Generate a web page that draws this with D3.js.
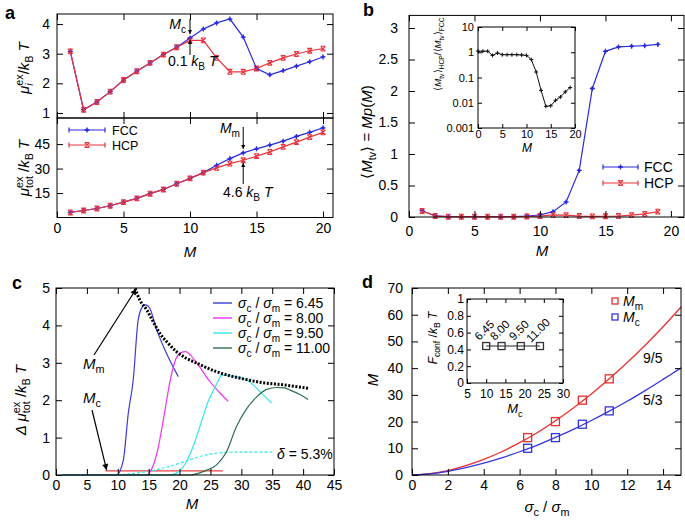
<!DOCTYPE html>
<html><head><meta charset="utf-8">
<script src="https://cdn.jsdelivr.net/npm/d3@7"></script>
<style>body{margin:0;background:#fff}</style>
</head><body>
<script>
// ---------------- DATA ----------------
// Panel a
const aM = [1,2,3,4,5,6,7,8,9,10,11,12,13,14,15,16,17,18,19,20];
const aMuiFCC = [3.08,1.11,1.37,1.72,2.11,2.41,2.69,2.97,3.22,3.53,3.83,4.04,4.17,3.56,2.50,2.29,2.43,2.58,2.73,2.89];
const aMuiHCP = [3.08,1.11,1.37,1.72,2.11,2.41,2.69,2.97,3.22,3.45,3.45,2.86,2.39,2.39,2.50,2.69,2.86,2.99,3.10,3.17];
const aMutotFCC = [3.1,4.3,5.5,7.2,9.4,11.7,14.6,17.2,20.7,24.0,27.5,32.0,36.1,39.6,42.1,44.4,46.8,49.7,52.2,55.0];
const aMutotHCP = [3.1,4.3,5.5,7.2,9.4,11.7,14.6,17.2,20.7,24.0,27.5,30.4,33.0,35.1,37.6,40.2,43.3,46.2,49.3,52.2];
const aXTicks = [0,5,10,15,20];
const aYTicksTop = [1,2,3,4];
const aYTicksBot = [15,30,45];
// Panel b
const bM = [1,2,3,4,5,6,7,8,9,10,11,12,13,14,15,16,17,18,19];
const bFCC = [0.1,0.02,0.005,0.005,0.005,0.005,0.005,0.008,0.016,0.032,0.085,0.24,0.74,2.04,2.63,2.70,2.71,2.72,2.74];
const bHCP = [0.095,0.015,0.005,0.005,0.005,0.005,0.005,0.005,0.008,0.015,0.035,0.03,0.015,0.01,0.012,0.015,0.03,0.05,0.085];
const bInsetM = [0,1,2,3,4,5,6,7,8,9,10,11,12,13,14,15,16,17,18,19];
const bInsetRatio = [1.1,1.1,1.1,0.75,0.93,0.8,0.8,0.8,0.8,0.78,0.75,0.51,0.165,0.031,0.0072,0.0076,0.0125,0.017,0.027,0.04];
const bXTicks = [0,5,10,15,20];
const bYTicks = [0,0.5,1,1.5,2,2.5,3];
const bInsetYTicks = [0.001,0.01,0.1,1,10];
const bInsetYLabels = ["0.001","0.01","0.1","1","10"];
// Panel c
const cBlueM = [1,9.8,10.9,11.7,12.5,13.3,14.0,14.4,14.9,15.2,16.3,17.9,19.8];
const cBlueV = [0,0,0.4,1.65,2.54,4.14,4.5,4.55,4.52,4.45,3.88,3.25,2.63];
const cMagM = [1,14.6,15.6,16.5,17.4,18.5,19.4,20.3,21.0,21.8,23.0,24.9,26.5,27.9];
const cMagV = [0,0,0.2,0.7,1.5,2.54,3.1,3.28,3.3,3.2,2.95,2.5,2.2,1.97];
const cCyanM = [1,18.5,19.5,20.6,21.4,22.2,23.0,23.8,24.6,25.5,26.2,26.8,28.7,30.9,31.9,33.5,34.9];
const cCyanV = [0,0,0.05,0.22,0.45,0.76,1.15,1.56,1.95,2.27,2.5,2.67,2.64,2.54,2.41,2.15,1.92];
const cGreenM = [1,21.7,24.4,26.0,27.6,29.2,30.9,32.5,34.1,35.7,37.0,37.9,39.5,40.8];
const cGreenV = [0,0,0.13,0.27,0.62,1.29,1.78,2.09,2.29,2.34,2.33,2.27,2.15,2.02];
const cDashM = [1,10,13,15,17,19,21,23,25,27,29,35];
const cDashV = [0,0.01,0.05,0.1,0.17,0.26,0.37,0.48,0.56,0.6,0.61,0.61];
const cEnvM = [12.8,13.5,14.7,15.8,16.8,18.0,19.5,21.0,22.8,24.5,26.0,28.0,30.3,33.0,36.8,40.8];
const cEnvV = [4.99,4.7,4.41,4.08,3.79,3.55,3.3,3.13,2.99,2.86,2.76,2.66,2.57,2.48,2.41,2.32];
const cRedM = [8,27];
const cRedV = [0.11,0.11];
const cLegend = ["6.45","8.00","9.50","11.00"];
const cXTicks = [0,5,10,15,20,25,30,35,40,45];
const cYTicks = [0,1,2,3,4,5];
// Panel d
const dSigma = [6.45,8.00,9.50,11.00];
const dMm = [14,20,28,36];
const dMc = [10,14,19,24];
const dFitX = [0,1,2,3,4,5,6,7,8,9,10,11,12,13,14,15];
const dFitMm = [0,0.48,1.67,3.47,5.82,8.69,12.1,15.9,20.3,25.1,30.3,36.0,42.1,48.6,55.5,62.9];
const dFitMc = [0,0.44,1.39,2.74,4.43,6.42,8.70,11.2,14.05,17.1,20.4,23.9,27.6,31.6,35.8,40.1];
const dInsetF = [0.44,0.44,0.44,0.44];
const dXTicks = [0,2,4,6,8,10,12,14];
const dYTicks = [0,10,20,30,40,50,60,70];
const dInsetXTicks = [5,10,15,20,25,30];
const dInsetYTicks = [0,0.2,0.4,0.6,0.8,1];

// ---------------- STYLE ----------------
const FONT = "'Liberation Sans', Arial, Helvetica, sans-serif";
const BLUE = "#2a2ae0", RED = "#e8343c";
const C6 = "#3b3bd6", C8 = "#f030f0", C95 = "#30e8e8", C11 = "#2f6f4f";

const svg = d3.select("body").append("svg").attr("width",685).attr("height",522)
  .attr("font-family",FONT).style("background","#fff");
svg.append("rect").attr("width",685).attr("height",522).attr("fill","#fff");
const defs = svg.append("defs");
function mkArrow(id, w, h){
  defs.append("marker").attr("id",id).attr("viewBox","0 0 10 10").attr("refX",10).attr("refY",5)
    .attr("markerUnits","userSpaceOnUse").attr("markerWidth",w).attr("markerHeight",h).attr("orient","auto")
    .append("path").attr("d","M0,0 L10,5 L0,10 z").attr("fill","#000");
}
mkArrow("ahS",5,4); mkArrow("ahL",9,6);

function rich(sel, parts, fs){
  let cur = 0, pending = 0, prevLen = 0;
  parts.forEach(p=>{
    const lvl = p.sup ? -0.38*fs : p.sub ? 0.28*fs : 0;
    const ts = sel.append("tspan").text(p.t);
    ts.attr("dy",(lvl-cur).toFixed(2));
    cur = lvl;
    if (p.sup||p.sub) ts.attr("font-size",(fs*0.72).toFixed(1));
    if (p.it) ts.attr("font-style","italic");
    let dxv = 0;
    if (p.back) dxv -= prevLen;
    else if (pending) { dxv += pending; pending = 0; }
    if (dxv) ts.attr("dx",dxv.toFixed(2));
    const len = ts.node().getComputedTextLength();
    if (p.back) pending = Math.max(0, prevLen-len);
    prevLen = len;
  });
}
function label(x,y,parts,o={}){
  const fs=o.fs||15;
  const t = svg.append("text").attr("transform",`translate(${x},${y}) rotate(${o.rot||0})`)
    .attr("text-anchor",o.anchor||"middle").attr("font-size",fs).attr("fill","#000");
  if (o.bold) t.attr("font-weight","bold");
  rich(t, typeof parts==="string"?[{t:parts}]:parts, fs);
  return t;
}
function tickAxis(scale, orient, pos, values, o={}){
  const len=o.len||6, pad=o.pad||5, fs=o.fs||14;
  const gen = {bottom:d3.axisBottom,top:d3.axisTop,left:d3.axisLeft,right:d3.axisRight}[orient](scale)
    .tickValues(values).tickSizeInner(-len).tickSizeOuter(0).tickPadding(pad);
  if (o.labels===false) gen.tickFormat(()=>"");
  else gen.tickFormat(o.fmt || (d=>String(d)));
  const horiz = orient==="bottom"||orient==="top";
  const a = svg.append("g").attr("transform",horiz?`translate(0,${pos})`:`translate(${pos},0)`).call(gen);
  a.select(".domain").remove();
  a.attr("font-family",FONT).attr("font-size",fs);
  a.selectAll("line").attr("stroke","#000").attr("stroke-width",1);
  a.selectAll("text").attr("fill","#000");
  return a;
}
function frame(x0,x1,y0,y1){
  svg.append("rect").attr("x",x0).attr("y",y0).attr("width",x1-x0).attr("height",y1-y0)
    .attr("fill","none").attr("stroke","#000").attr("stroke-width",1);
}
function plus(g,x,y,c,s=2.5){
  g.append("path").attr("d",`M${x-s},${y}H${x+s}M${x},${y-s}V${y+s}`).attr("stroke",c).attr("stroke-width",1.3).attr("fill","none");
  g.append("circle").attr("cx",x).attr("cy",y).attr("r",1.4).attr("fill",c);
}
function boxx(g,x,y,c,s=2.4){
  g.append("path").attr("d",`M${x-s},${y-s}L${x+s},${y+s}M${x-s},${y+s}L${x+s},${y-s}M${x-s},${y-s}H${x+s}M${x-s},${y+s}H${x+s}`)
    .attr("stroke",c).attr("stroke-width",1.1).attr("fill","none");
}
function series(xs, ys, sx, sy, color, opts={}){
  const pts = xs.map((x,i)=>[sx(x), sy(ys[i])]);
  const p = svg.append("path").attr("d",d3.line().curve(opts.curve||d3.curveLinear)(pts))
    .attr("fill","none").attr("stroke",color).attr("stroke-width",opts.w||1.2);
  if (opts.dash) p.attr("stroke-dasharray",opts.dash);
  return pts;
}
function legendLine(x0,x1,y,c,mk){
  const g = svg.append("g");
  g.append("path").attr("d",`M${x0},${y}H${x1}M${x0},${y-2.5}V${y+2.5}M${x1},${y-2.5}V${y+2.5}`).attr("stroke",c).attr("stroke-width",1.2).attr("fill","none");
  mk(g,(x0+x1)/2,y,c);
}

// ---------------- PANEL A ----------------
const axA = d3.scaleLinear().domain([0,20.75]).range([57,333]);
const ayT = d3.scaleLinear().domain([0.83,4.34]).range([118,14]);
const ayB = d3.scaleLinear().domain([0,61]).range([217.5,118]);
{
  const g = svg.append("g");
  const p1 = series(aM,aMuiFCC,axA,ayT,BLUE);
  const p2 = series(aM,aMuiHCP,axA,ayT,RED);
  p1.forEach(p=>plus(g,p[0],p[1],BLUE));
  p2.forEach(p=>boxx(g,p[0],p[1],RED));
  const q1 = series(aM,aMutotFCC,axA,ayB,BLUE);
  const q2 = series(aM,aMutotHCP,axA,ayB,RED);
  q1.forEach(p=>plus(g,p[0],p[1],BLUE));
  q2.forEach(p=>boxx(g,p[0],p[1],RED));
}
tickAxis(axA,"top",14,aXTicks,{labels:false});
tickAxis(axA,"bottom",118,aXTicks,{labels:false});
tickAxis(axA,"top",118,aXTicks,{labels:false});
tickAxis(axA,"bottom",217.5,aXTicks,{pad:5.5});
tickAxis(ayT,"left",57,aYTicksTop,{pad:7});
tickAxis(ayT,"right",333,aYTicksTop,{labels:false});
tickAxis(ayB,"left",57,aYTicksBot,{pad:7});
tickAxis(ayB,"right",333,aYTicksBot,{labels:false});
frame(57,333,14,118); frame(57,333,118,217.5);
legendLine(69,105,130,BLUE,plus); legendLine(69,105,145,RED,boxx);
label(112,134.5,"FCC",{anchor:"start",fs:12.5}); label(112,149.5,"HCP",{anchor:"start",fs:12.5});
label(190,257,[{t:"M",it:1}],{fs:15});
label(29,68,[{t:"μ",it:1},{t:"ex",sup:1},{t:"i",sub:1,it:1,back:1},{t:"/"},{t:"k",it:1},{t:"B",sub:1},{t:" T",it:1}],{rot:-90,fs:15});
label(29,168,[{t:"μ",it:1},{t:"ex",sup:1},{t:"tot",sub:1,back:1},{t:" /"},{t:"k",it:1},{t:"B",sub:1},{t:" T",it:1}],{rot:-90,fs:15});
label(5,19,"a",{anchor:"start",fs:18,bold:1});
// annotations a
svg.append("line").attr("x1",axA(10)).attr("x2",axA(10)).attr("y1",19).attr("y2",34).attr("stroke","#000").attr("marker-end","url(#ahS)");
svg.append("line").attr("x1",axA(10)).attr("x2",axA(10)).attr("y1",55).attr("y2",40).attr("stroke","#000").attr("marker-end","url(#ahS)");
label(186,29,[{t:"M",it:1},{t:"c",sub:1}],{anchor:"end",fs:14});
label(168,66,[{t:"0.1 "},{t:"k",it:1},{t:"B",sub:1},{t:" T",it:1}],{anchor:"start",fs:14});
svg.append("line").attr("x1",axA(14)).attr("x2",axA(14)).attr("y1",127).attr("y2",149).attr("stroke","#000").attr("marker-end","url(#ahS)");
svg.append("line").attr("x1",axA(14)).attr("x2",axA(14)).attr("y1",184).attr("y2",163).attr("stroke","#000").attr("marker-end","url(#ahS)");
label(240,133,[{t:"M",it:1},{t:"m",sub:1}],{anchor:"end",fs:14});
label(223,197,[{t:"4.6 "},{t:"k",it:1},{t:"B",sub:1},{t:" T",it:1}],{anchor:"start",fs:14});

// ---------------- PANEL B ----------------
const bx = d3.scaleLinear().domain([0,21]).range([409,684]);
const by = d3.scaleLinear().domain([0,3.2]).range([217,15.4]);
{
  const g = svg.append("g");
  const p1 = series(bM,bFCC,bx,by,BLUE);
  const p2 = series(bM,bHCP,bx,by,RED);
  p1.forEach(p=>plus(g,p[0],p[1],BLUE));
  p2.forEach(p=>boxx(g,p[0],p[1],RED));
}
tickAxis(bx,"bottom",217,bXTicks,{pad:9.5});
tickAxis(bx,"top",15.4,bXTicks,{labels:false});
tickAxis(by,"left",409,bYTicks,{pad:11});
tickAxis(by,"right",684,bYTicks,{labels:false});
frame(409,684,15.4,217);
legendLine(603,638,167,BLUE,plus); legendLine(603,638,183,RED,boxx);
label(644,172,"FCC",{anchor:"start",fs:14}); label(644,188,"HCP",{anchor:"start",fs:14});
label(542,256,[{t:"M",it:1}],{fs:15});
label(372,132,[{t:"⟨"},{t:"M",it:1},{t:"tv",sub:1},{t:"⟩ = "},{t:"Mp",it:1},{t:"("},{t:"M",it:1},{t:")"}],{rot:-90,fs:15});
label(363,16,"b",{anchor:"start",fs:18,bold:1});
// inset b
const bix = d3.scaleLinear().domain([0,20]).range([478,575]);
const biy = d3.scaleLog().domain([0.001,10]).range([128,27]);
{
  const g = svg.append("g");
  const p = series(bInsetM,bInsetRatio,bix,biy,"#111",{w:1});
  p.forEach(q=>g.append("path").attr("d",`M${q[0]-2},${q[1]}H${q[0]+2}M${q[0]},${q[1]-2}V${q[1]+2}`).attr("stroke","#111").attr("stroke-width",1));
}
tickAxis(bix,"bottom",128,bXTicks,{len:4,pad:2,fs:11});
tickAxis(bix,"top",27,bXTicks,{len:4,labels:false});
tickAxis(biy,"left",478,bInsetYTicks,{len:4,pad:4,fs:11,fmt:(d,i)=>bInsetYLabels[i]});
tickAxis(biy,"right",575,bInsetYTicks,{len:4,labels:false});
frame(478,575,27,128);
label(527,152,[{t:"M",it:1}],{fs:12});
label(441,54,[{t:"⟨"},{t:"M",it:1},{t:"tv",sub:1},{t:"⟩"},{t:"HCP",sub:1},{t:"/⟨"},{t:"M",it:1},{t:"tv",sub:1},{t:"⟩"},{t:"FCC",sub:1}],{rot:-90,fs:9.5});

// ---------------- PANEL C ----------------
const cx = d3.scaleLinear().domain([0,45]).range([56,334]);
const cy = d3.scaleLinear().domain([0,5]).range([475,288]);
series(cRedM,cRedV,cx,cy,"#e84040",{w:1.3});
series(cDashM,cDashV,cx,cy,C95,{w:1.2,dash:"3,2",curve:d3.curveMonotoneX});
series(cBlueM,cBlueV,cx,cy,C6,{w:1.2,curve:d3.curveMonotoneX});
series(cMagM,cMagV,cx,cy,C8,{w:1.2,curve:d3.curveMonotoneX});
series(cCyanM,cCyanV,cx,cy,C95,{w:1.2,curve:d3.curveMonotoneX});
series(cGreenM,cGreenV,cx,cy,C11,{w:1.2,curve:d3.curveMonotoneX});
series(cEnvM,cEnvV,cx,cy,"#000",{w:3,dash:"2,1.6",curve:d3.curveMonotoneX});
tickAxis(cx,"bottom",475,cXTicks,{pad:5});
tickAxis(cx,"top",288,cXTicks,{labels:false});
tickAxis(cy,"left",56,cYTicks,{pad:6});
tickAxis(cy,"right",334,cYTicks,{labels:false});
frame(56,334,288,475);
[C6,C8,C95,C11].forEach((c,i)=>{
  const y = 303+i*15;
  svg.append("line").attr("x1",213).attr("x2",232).attr("y1",y).attr("y2",y).attr("stroke",c).attr("stroke-width",1.4);
  label(238,y+5,[{t:"σ",it:1},{t:"c",sub:1},{t:" / "},{t:"σ",it:1},{t:"m",sub:1},{t:" = "+cLegend[i]}],{anchor:"start",fs:14});
});
label(192,509,[{t:"M",it:1}],{fs:15});
label(26,400,[{t:"Δ ",it:1},{t:"μ",it:1},{t:"ex",sup:1},{t:"tot",sub:1,back:1},{t:" /"},{t:"k",it:1},{t:"B",sub:1},{t:" T",it:1}],{rot:-90,fs:15});
label(12,289,"c",{anchor:"start",fs:18,bold:1});
svg.append("line").attr("x1",94).attr("y1",355).attr("x2",cx(13)).attr("y2",cy(4.98)).attr("stroke","#000").attr("stroke-width",1.2).attr("marker-end","url(#ahL)");
svg.append("line").attr("x1",92).attr("y1",410).attr("x2",cx(8.2)).attr("y2",cy(0.13)).attr("stroke","#000").attr("stroke-width",1.2).attr("marker-end","url(#ahL)");
label(83,369,[{t:"M",it:1},{t:"m",sub:1}],{anchor:"start",fs:15});
label(83,403,[{t:"M",it:1},{t:"c",sub:1}],{anchor:"start",fs:15});
label(277,459,[{t:"δ",it:1},{t:" = 5.3%"}],{anchor:"start",fs:14});

// ---------------- PANEL D ----------------
const dx = d3.scaleLinear().domain([0,15]).range([412,681]);
const dy = d3.scaleLinear().domain([0,70]).range([475,288]);
series(dFitX,dFitMm,dx,dy,"#e83030",{w:1.3,curve:d3.curveCatmullRom});
series(dFitX,dFitMc,dx,dy,"#3535dd",{w:1.3,curve:d3.curveCatmullRom});
function sq(x,y,c,s){svg.append("rect").attr("x",x-s/2).attr("y",y-s/2).attr("width",s).attr("height",s).attr("fill","none").attr("stroke",c).attr("stroke-width",1.3);}
dSigma.forEach((s,i)=>{ sq(dx(s),dy(dMm[i]),"#e83030",8); sq(dx(s),dy(dMc[i]),"#3535dd",8); });
tickAxis(dx,"bottom",475,dXTicks,{pad:5});
tickAxis(dx,"top",288,dXTicks,{labels:false});
tickAxis(dy,"left",412,dYTicks,{pad:9});
tickAxis(dy,"right",681,dYTicks,{labels:false});
frame(412,681,288,475);
sq(615,301,"#e83030",6); sq(615,317,"#3535dd",6);
label(623,306,[{t:"M",it:1},{t:"m",sub:1}],{anchor:"start",fs:14});
label(623,322,[{t:"M",it:1},{t:"c",sub:1}],{anchor:"start",fs:14});
label(643,363,"9/5",{anchor:"start",fs:14});
label(643,405,"5/3",{anchor:"start",fs:14});
label(547,512,[{t:"σ",it:1},{t:"c",sub:1},{t:" / "},{t:"σ",it:1},{t:"m",sub:1}],{fs:15});
label(378,380,[{t:"M",it:1}],{rot:-90,fs:15});
label(362,288,"d",{anchor:"start",fs:18,bold:1});
// inset d
const dix = d3.scaleLinear().domain([5,30]).range([467,563]);
const diy = d3.scaleLinear().domain([0,1]).range([383,299]);
series(dMc,dInsetF,dix,diy,"#222",{w:1.1});
dMc.forEach((m,i)=>{ sq(dix(m),diy(dInsetF[i]),"#333",7);
  label(dix(m)+1,333,dSigma[i].toFixed(2),{rot:-45,fs:11.5}); });
tickAxis(dix,"bottom",383,dInsetXTicks,{len:4,pad:6,fs:12});
tickAxis(dix,"top",299,dInsetXTicks,{len:4,labels:false});
tickAxis(diy,"left",467,dInsetYTicks,{len:4,pad:3,fs:12});
tickAxis(diy,"right",563,dInsetYTicks,{len:4,labels:false});
frame(467,563,299,383);
label(515,413,[{t:"M",it:1},{t:"c",sub:1}],{fs:13});
label(437,338,[{t:"F",it:1},{t:"conf",sub:1},{t:" /"},{t:"k",it:1},{t:"B",sub:1},{t:" T",it:1}],{rot:-90,fs:12});
</script></body></html>
